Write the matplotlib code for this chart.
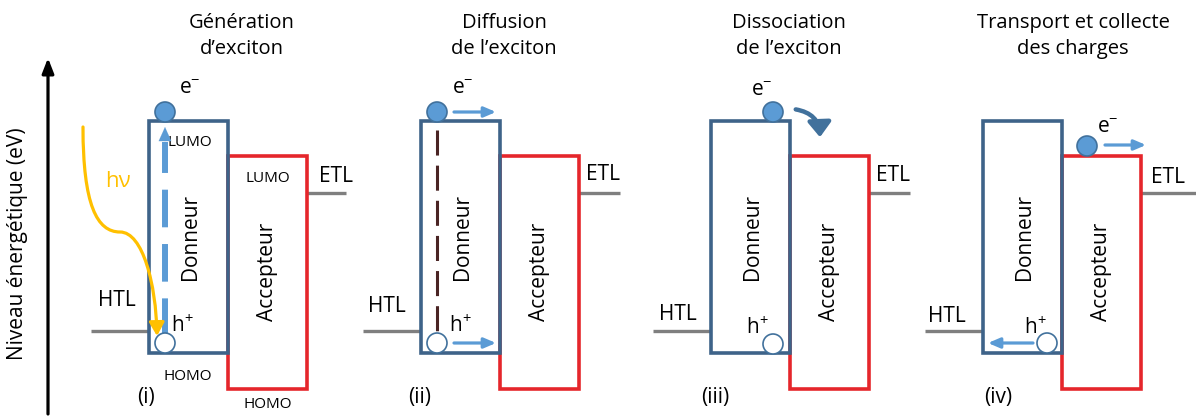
import matplotlib
matplotlib.use("Agg")
import matplotlib.pyplot as plt
from matplotlib.patches import Rectangle, Circle, FancyArrowPatch
from matplotlib.path import Path

plt.rcParams['font.family'] = ['Open Sans', 'DejaVu Sans']

# panel content
titles = ["Génération\nd\u2019exciton", "Diffusion\nde l\u2019exciton",
          "Dissociation\nde l\u2019exciton", "Transport et collecte\ndes charges"]
panel_tags = ["(i)", "(ii)", "(iii)", "(iv)"]
y_label = "Niveau énergétique (eV)"

# geometry (figure pixels, y downwards)
donor_left = [149, 421, 711, 983]
title_x = [242, 504, 789, 1073]
tag_x = [146, 420, 715, 998]
htl_text = [(117, 300), (387, 307), (678, 314), (947, 316)]
etl_text = [(336, 176), (603, 174), (893, 175), (1168, 177)]
etl_end = [346, 620, 910, 1196]
electron_xy = [(165, 112), (437, 112), (773, 112), (1087, 146)]
hole_xy = [(165, 343), (437, 343), (773, 344), (1047, 343)]
e_text = [(190, 88), (463, 88), (762, 90), (1108, 127)]
h_text = [(182, 326), (460, 326), (757, 328), (1035, 328)]

box_w = 79
donor_top, donor_bot = 121, 353
acc_top, acc_bot = 156, 389
htl_y, etl_y = 331, 193
r_dot = 10

c_donor = '#3E6389'
c_acc = '#E5262B'
c_gray = '#7F7F7F'
c_blue = '#5B9BD5'
c_dblue = '#41719C'
c_orange = '#FFC000'

fig = plt.figure(figsize=(11.96, 4.17), dpi=100)
ax = fig.add_axes([0, 0, 1, 1])
ax.set_xlim(0, 1196)
ax.set_ylim(417, 0)
ax.axis('off')

# energy axis
ax.annotate('', xy=(48, 58), xytext=(48, 414),
            arrowprops=dict(arrowstyle='-|>,head_length=0.9,head_width=0.35',
                            color='black', lw=2.3, shrinkA=0, shrinkB=0))
ax.text(18, 244, y_label, rotation=90, ha='center', va='center', fontsize=15)

for i in range(4):
    dl = donor_left[i]
    al = dl + box_w
    ax.text(title_x[i], 36, titles[i], ha='center', va='center', fontsize=14.5,
            linespacing=1.45)
    # HTL / ETL levels
    ax.plot([dl - 58, dl], [htl_y, htl_y], color=c_gray, lw=2.4, solid_capstyle='butt')
    ax.plot([al + box_w, etl_end[i]], [etl_y, etl_y], color=c_gray, lw=2.4,
            solid_capstyle='butt')
    ax.text(*htl_text[i], "HTL", ha='center', va='center', fontsize=15)
    ax.text(*etl_text[i], "ETL", ha='center', va='center', fontsize=15)
    # boxes
    ax.add_patch(Rectangle((al, acc_top), box_w, acc_bot - acc_top, fill=False,
                           ec=c_acc, lw=2.6, zorder=3))
    ax.add_patch(Rectangle((dl, donor_top), box_w, donor_bot - donor_top, fill=False,
                           ec=c_donor, lw=2.6, zorder=3))
    ax.text(dl + 41, 237, "Donneur", rotation=90, ha='center', va='center', fontsize=15)
    ax.text(al + 39, 272, "Accepteur", rotation=90, ha='center', va='center', fontsize=15)
    # charges
    ax.add_patch(Circle(electron_xy[i], r_dot, fc=c_blue, ec=c_dblue, lw=1.2, zorder=5))
    ax.add_patch(Circle(hole_xy[i], r_dot, fc='white', ec=c_dblue, lw=1.2, zorder=5))
    ax.text(*e_text[i], r"$\mathregular{e^{-}}$", ha='center', va='center', fontsize=15)
    ax.text(*h_text[i], r"$\mathregular{h^{+}}$", ha='center', va='center', fontsize=15)
    ax.text(tag_x[i], 398, panel_tags[i], ha='center', va='center', fontsize=15)

# panel (i) extras
ax.text(190, 143, "LUMO", ha='center', va='center', fontsize=11)
ax.text(268, 178, "LUMO", ha='center', va='center', fontsize=11)
ax.text(188, 376, "HOMO", ha='center', va='center', fontsize=11)
ax.text(268, 405, "HOMO", ha='center', va='center', fontsize=11)
ax.text(118, 181, "hν", ha='center', va='center', fontsize=16, color=c_orange)

# excitation arrow (dashed, light blue)
ln, = ax.plot([165, 165], [336, 142], color=c_blue, lw=4.3, solid_capstyle='butt',
              zorder=4)
ln.set_dashes((6.3, 2.8))
ax.annotate('', xy=(165, 127), xytext=(165, 146),
            arrowprops=dict(arrowstyle='-|>,head_length=1.0,head_width=0.45',
                            color=c_blue, lw=0.1, shrinkA=0, shrinkB=0), zorder=4)

# photon path
verts = [(83, 127), (83, 205), (97, 232), (120, 232),
         (143, 232), (156, 285), (157, 336)]
codes = [Path.MOVETO, Path.CURVE4, Path.CURVE4, Path.CURVE4,
         Path.CURVE4, Path.CURVE4, Path.CURVE4]
ax.add_patch(FancyArrowPatch(path=Path(verts, codes),
                             arrowstyle='-|>,head_length=8,head_width=4.5',
                             color=c_orange, lw=2.3, zorder=6))

# panel (ii): diffusion
ln2, = ax.plot([437, 437], [130, 335], color='#4A2424', lw=2.2, zorder=4)
ln2.set_dashes((8.2, 3.3))
for y in (112, 343):
    ax.annotate('', xy=(496, y), xytext=(454, y),
                arrowprops=dict(arrowstyle='-|>,head_length=0.7,head_width=0.3',
                                color=c_blue, lw=2.3, shrinkA=0, shrinkB=0))

# panel (iii): electron transfer
ax.add_patch(FancyArrowPatch((793, 109), (820, 140),
                             connectionstyle='arc3,rad=-0.45',
                             arrowstyle='-|>,head_length=9,head_width=7',
                             color=c_dblue, lw=3.2, zorder=6))

# panel (iv): collection
ax.annotate('', xy=(1146, 145), xytext=(1105, 145),
            arrowprops=dict(arrowstyle='-|>,head_length=0.7,head_width=0.3',
                            color=c_blue, lw=2.3, shrinkA=0, shrinkB=0))
ax.annotate('', xy=(988, 343), xytext=(1033, 343),
            arrowprops=dict(arrowstyle='-|>,head_length=0.7,head_width=0.3',
                            color=c_blue, lw=2.3, shrinkA=0, shrinkB=0))

fig.savefig('out.png', dpi=100)
